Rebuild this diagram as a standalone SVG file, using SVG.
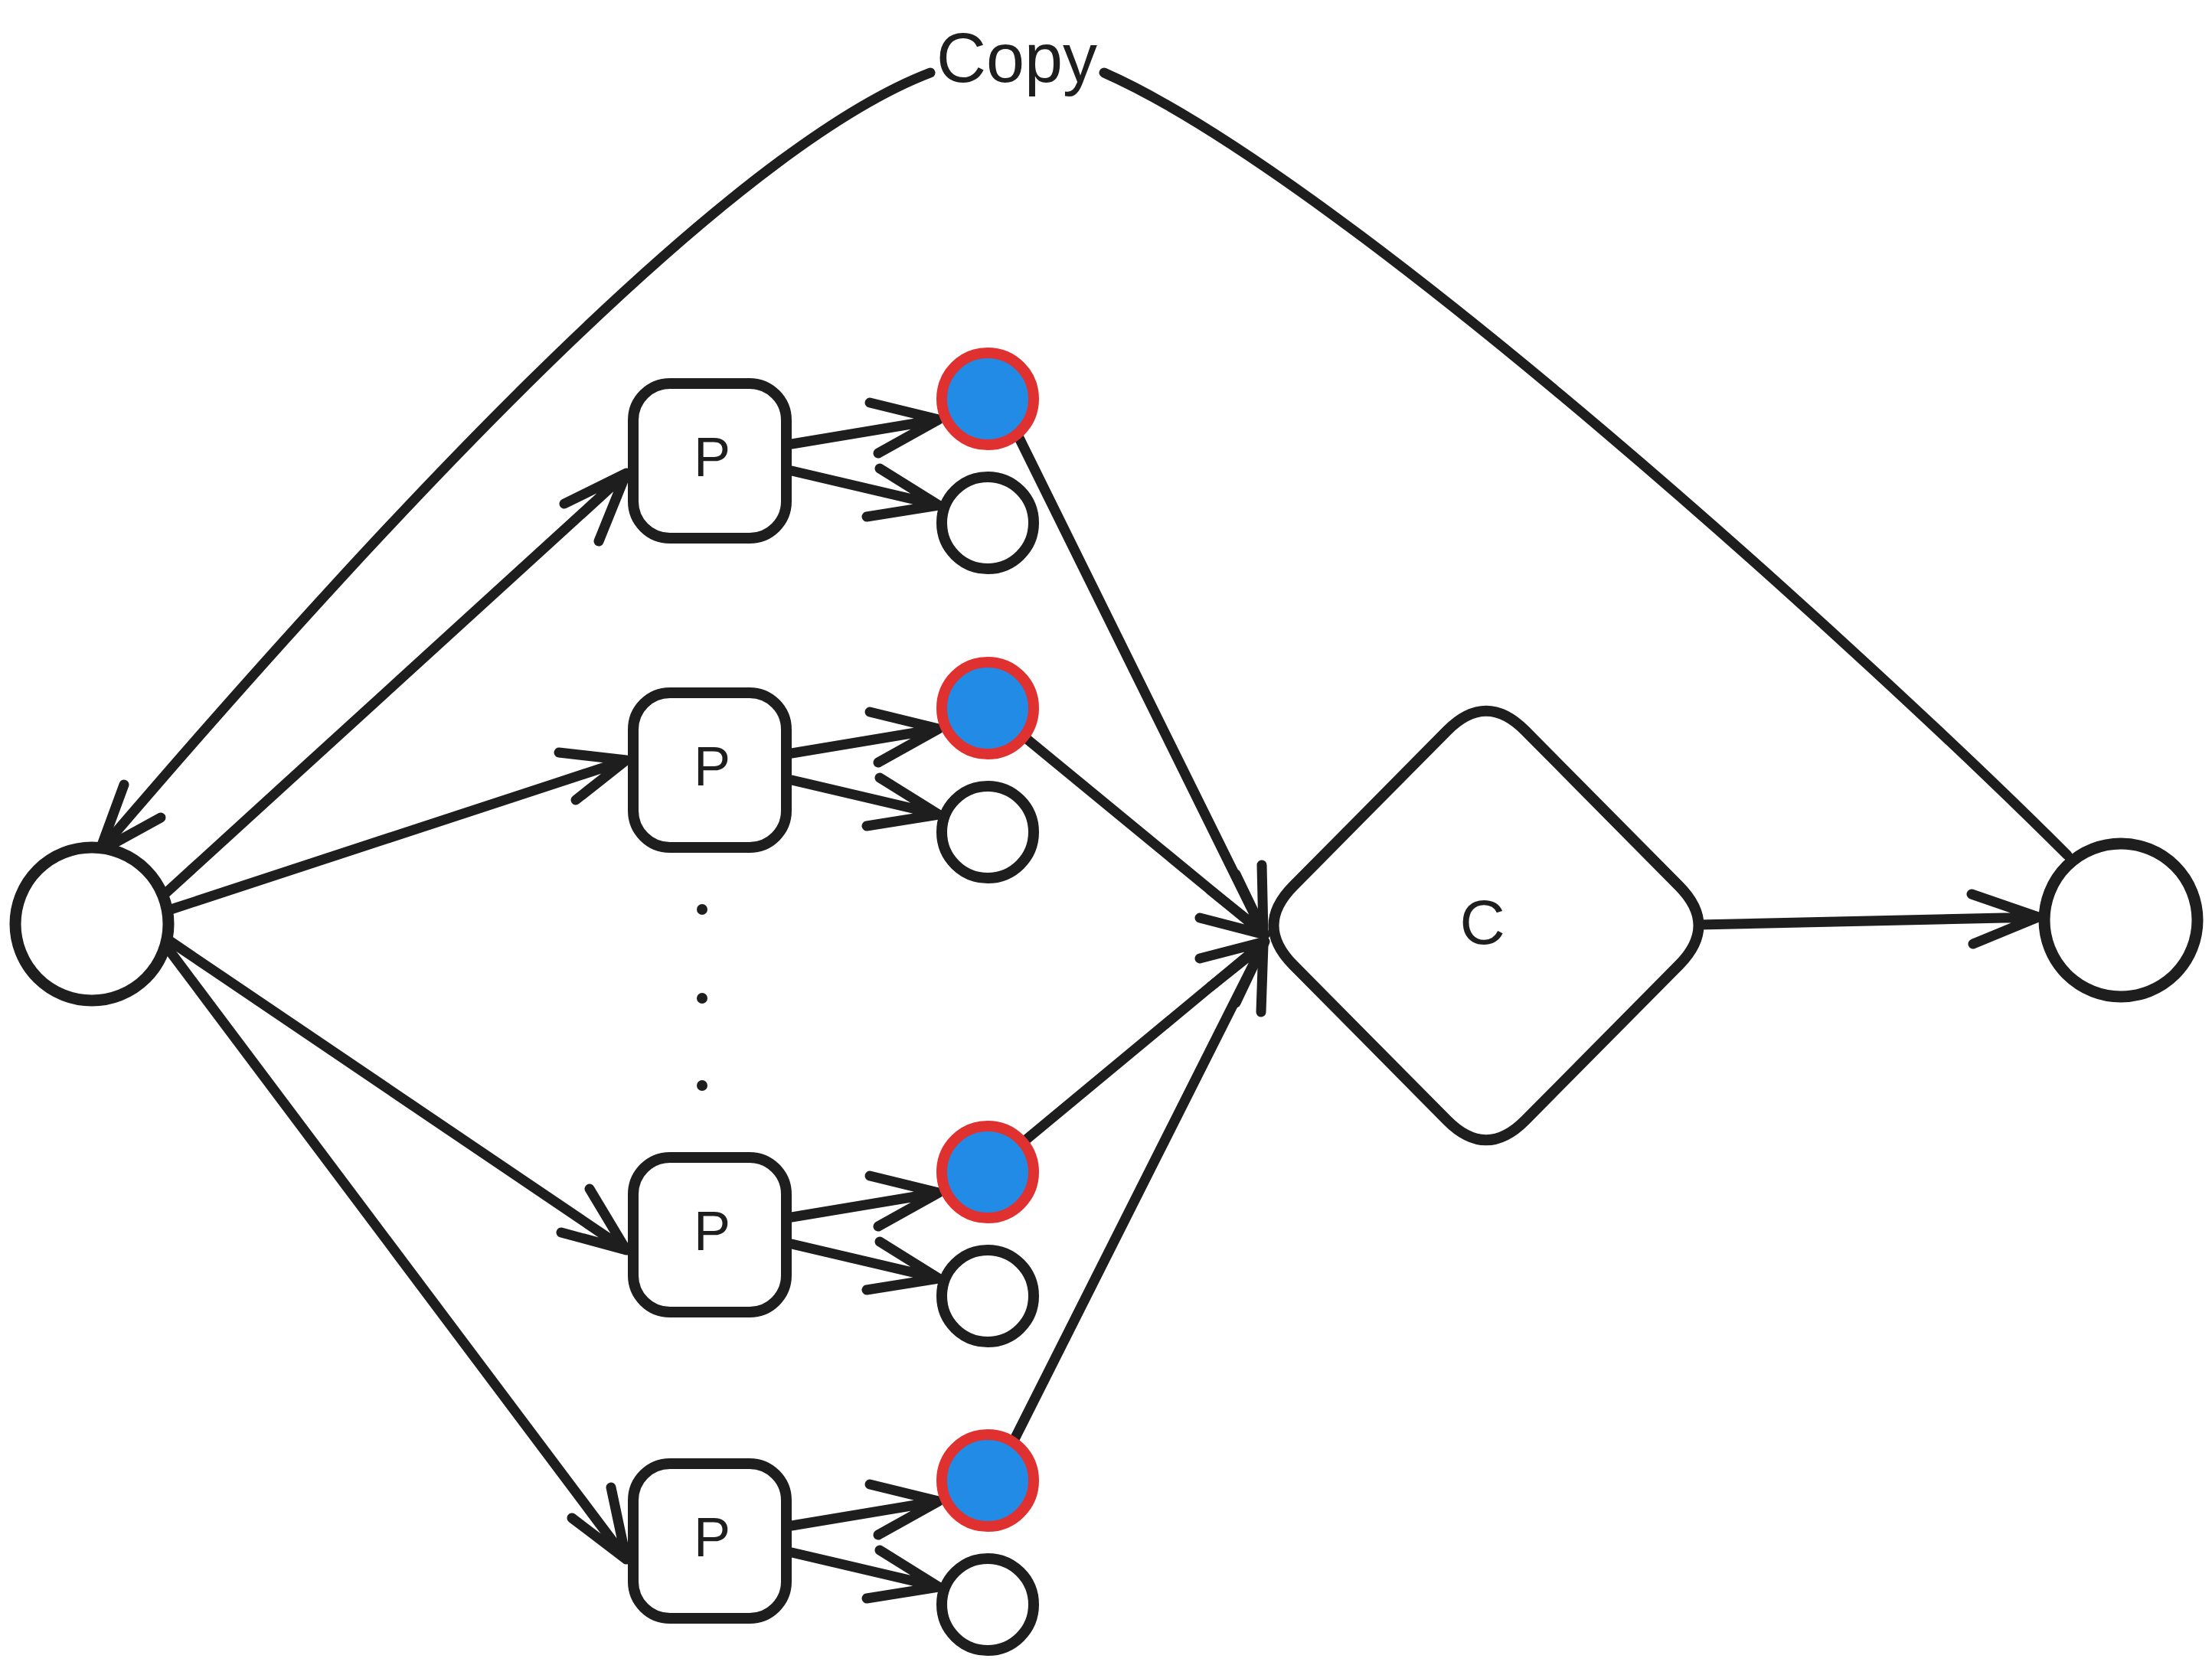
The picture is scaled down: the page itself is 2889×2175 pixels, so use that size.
<svg xmlns="http://www.w3.org/2000/svg" width="2889" height="2175" viewBox="0 0 2889 2175">
<style>
.bg{fill:#ffffff}
.node{fill:#ffffff;stroke:#1e1e1e;stroke-width:14}
.big{fill:#ffffff;stroke:#1e1e1e;stroke-width:15}
.hot{fill:#228be6;stroke:#e03131;stroke-width:14}
.edge{fill:none;stroke:#1e1e1e;stroke-width:13;stroke-linecap:round;stroke-linejoin:round}
.dot{fill:#1e1e1e}
.lbl{font-family:"Liberation Sans","DejaVu Sans",sans-serif;fill:#1e1e1e;text-anchor:middle}
</style>
<rect class="bg" x="0" y="0" width="2889" height="2175"/>
<g id="connectors">
  <!-- copy loop -->
  <path class="edge" d="M1215,95 C935,201.5 455,732 130,1112"/>
  <path class="edge" d="M162,1025 L130,1112 L210,1068"/>
  <path class="edge" d="M1442,95 C1762,236 2453,870 2700,1117"/>
  <!-- source to P boxes -->
  <path class="edge" d="M215,1168 L818,618 M737,658 L818,618 L782,707"/>
  <path class="edge" d="M217,1190 L818,993 M730,983 L818,993 L752,1045"/>
  <path class="edge" d="M220,1228 L818,1633 M733,1610 L818,1633 L770,1553"/>
  <path class="edge" d="M220,1240 L818,2037 M747,1983 L818,2037 L798,1943"/>
  <!-- P boxes to outputs -->
  <path class="edge" d="M1034,580 L1226,548 M1136,526 L1226,548 L1147,592"/>
  <path class="edge" d="M1034,615 L1226,660 M1149,612 L1226,660 L1132,675"/>
  <path class="edge" d="M1034,984 L1226,952 M1136,930 L1226,952 L1147,996"/>
  <path class="edge" d="M1034,1019 L1226,1064 M1149,1016 L1226,1064 L1132,1079"/>
  <path class="edge" d="M1034,1590 L1226,1558 M1136,1536 L1226,1558 L1147,1602"/>
  <path class="edge" d="M1034,1625 L1226,1670 M1149,1622 L1226,1670 L1132,1685"/>
  <path class="edge" d="M1034,1993 L1226,1961 M1136,1939 L1226,1961 L1147,2005"/>
  <path class="edge" d="M1034,2028 L1226,2073 M1149,2025 L1226,2073 L1132,2088"/>
  <!-- selected outputs to C -->
  <path class="edge" d="M1331,572 L1650,1218 M1648,1130 L1650,1218 L1581,1163"/>
  <path class="edge" d="M1342,966 L1652,1221 M1614,1142 L1652,1221 L1567,1199"/>
  <path class="edge" d="M1341,1488 L1652,1230 M1567,1252 L1652,1230 L1614,1310"/>
  <path class="edge" d="M1325,1880 L1650,1234 M1581,1289 L1650,1234 L1647,1322"/>
  <!-- C to result -->
  <path class="edge" d="M2219,1208 L2662,1198 M2575,1168 L2662,1198 L2577,1233"/>
</g>
<g id="source"><circle class="big" cx="120" cy="1207" r="100"/></g>
<g id="result"><circle class="big" cx="2770" cy="1202" r="100"/></g>
<g id="p1"><rect class="node" x="827" y="501" width="200" height="202" rx="48"/><text class="lbl" x="930" y="622" font-size="72">P</text></g>
<g id="p2"><rect class="node" x="827" y="905" width="200" height="202" rx="48"/><text class="lbl" x="930" y="1026" font-size="72">P</text></g>
<g id="p3"><rect class="node" x="827" y="1512" width="200" height="202" rx="48"/><text class="lbl" x="930" y="1633" font-size="72">P</text></g>
<g id="p4"><rect class="node" x="827" y="1912" width="200" height="202" rx="48"/><text class="lbl" x="930" y="2033" font-size="72">P</text></g>
<g id="ellipsis"><circle class="dot" cx="917" cy="1188" r="7"/><circle class="dot" cx="917" cy="1304" r="7"/><circle class="dot" cx="917" cy="1418" r="7"/></g>
<g id="out1a"><circle class="hot" cx="1290" cy="521" r="60"/></g>
<g id="out1b"><circle class="node" cx="1290" cy="683" r="60"/></g>
<g id="out2a"><circle class="hot" cx="1290" cy="925" r="60"/></g>
<g id="out2b"><circle class="node" cx="1290" cy="1087" r="60"/></g>
<g id="out3a"><circle class="hot" cx="1290" cy="1531" r="60"/></g>
<g id="out3b"><circle class="node" cx="1290" cy="1693" r="60"/></g>
<g id="out4a"><circle class="hot" cx="1290" cy="1934" r="60"/></g>
<g id="out4b"><circle class="node" cx="1290" cy="2096" r="60"/></g>
<g id="combine">
  <path class="node" d="M1890,954.5 Q1941,903 1992,954.5 L2193,1157.5 Q2244,1209 2193,1260.5 L1992,1463.5 Q1941,1515 1890,1463.5 L1689,1260.5 Q1638,1209 1689,1157.5 Z"/>
  <text class="lbl" x="1936" y="1233" font-size="82">C</text>
</g>
<g id="copy-label"><text class="lbl" x="1328" y="107" font-size="90">Copy</text></g>
</svg>
